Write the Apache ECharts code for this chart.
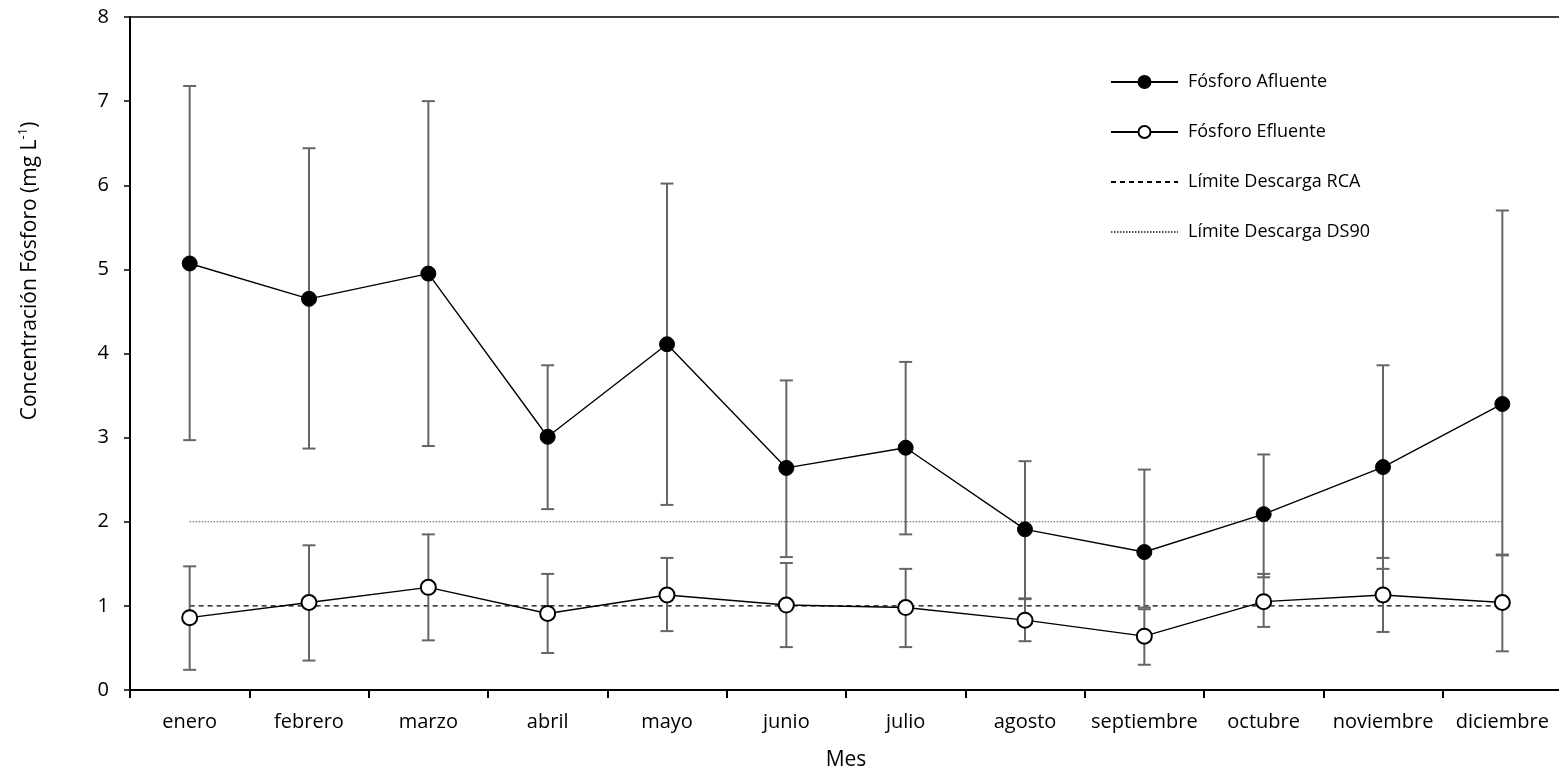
<!DOCTYPE html>
<html>
<head>
<meta charset="utf-8">
<script src="https://cdn.jsdelivr.net/npm/echarts@6/dist/echarts.min.js"></script>
<style>
  html, body { margin: 0; padding: 0; background: #fff; }
  #chart { width: 1559px; height: 775px; }
</style>
</head>
<body>
<div id="chart"></div>
<script>
// Monthly phosphorus concentration, influent vs effluent, with error bars
const months = ['enero', 'febrero', 'marzo', 'abril', 'mayo', 'junio', 'julio', 'agosto', 'septiembre', 'octubre', 'noviembre', 'diciembre'];

const afluente    = [5.07, 4.65, 4.95, 3.01, 4.11, 2.64, 2.88, 1.91, 1.64, 2.09, 2.65, 3.40];
const afluenteSup = [7.18, 6.44, 7.00, 3.86, 6.02, 3.68, 3.90, 2.72, 2.62, 2.80, 3.86, 5.70];
const afluenteInf = [2.97, 2.87, 2.90, 2.15, 2.20, 1.58, 1.85, 1.09, 0.98, 1.34, 1.44, 1.60];

const efluente    = [0.86, 1.04, 1.22, 0.91, 1.13, 1.01, 0.98, 0.83, 0.64, 1.05, 1.13, 1.04];
const efluenteSup = [1.47, 1.72, 1.85, 1.38, 1.57, 1.51, 1.44, 1.08, 0.96, 1.38, 1.57, 1.61];
const efluenteInf = [0.24, 0.35, 0.59, 0.44, 0.70, 0.51, 0.51, 0.58, 0.30, 0.75, 0.69, 0.46];

// Discharge limits (mg/L)
const limiteRCA  = [1, 1, 1, 1, 1, 1, 1, 1, 1, 1, 1, 1];
const limiteDS90 = [2, 2, 2, 2, 2, 2, 2, 2, 2, 2, 2, 2];

const yTicks = { min: 0, max: 8, interval: 1 };

const FONT = 'Open Sans';

function errorBarData(sup, inf) {
  return sup.map((s, i) => [i, s, inf[i]]);
}

function renderErrorBar(params, api) {
  const i = api.value(0);
  const top = api.coord([i, api.value(1)]);
  const bot = api.coord([i, api.value(2)]);
  const half = 6.5;
  const style = { stroke: '#666666', lineWidth: 2 };
  return {
    type: 'group',
    children: [
      { type: 'line', shape: { x1: top[0], y1: top[1], x2: bot[0], y2: bot[1] }, style },
      { type: 'line', shape: { x1: top[0] - half, y1: top[1], x2: top[0] + half, y2: top[1] }, style },
      { type: 'line', shape: { x1: bot[0] - half, y1: bot[1], x2: bot[0] + half, y2: bot[1] }, style }
    ]
  };
}

const chart = echarts.init(document.getElementById('chart'), null, { renderer: 'canvas' });

chart.setOption({
  animation: false,
  backgroundColor: '#ffffff',
  textStyle: { fontFamily: FONT, color: '#000' },
  grid: {
    left: 130, top: 17, width: 1432, height: 673,
    outerBoundsMode: 'none',
    containLabel: false,
    show: true, borderColor: '#000', borderWidth: 1.5, backgroundColor: 'transparent'
  },
  legend: {
    orient: 'vertical',
    left: 1105,
    top: 68,
    itemWidth: 67,
    itemHeight: 15,
    itemGap: 32,
    textStyle: { fontFamily: FONT, fontSize: 18, color: '#000', padding: [0, 0, 0, 5] },
    data: [
      { name: 'Fósforo Afluente' },
      { name: 'Fósforo Efluente' },
      { name: 'Límite Descarga RCA', itemStyle: { opacity: 0 } },
      { name: 'Límite Descarga DS90', itemStyle: { opacity: 0 } }
    ]
  },
  xAxis: {
    type: 'category',
    data: months,
    boundaryGap: true,
    name: 'Mes',
    nameLocation: 'middle',
    nameGap: 60,
    nameTextStyle: { fontFamily: FONT, fontSize: 21, color: '#000' },
    axisLine: { lineStyle: { color: '#000', width: 2 } },
    axisTick: { show: true, interval: 0, length: 8, lineStyle: { color: '#000', width: 2 } },
    axisLabel: { interval: 0, fontFamily: FONT, fontSize: 20, color: '#000', margin: 22 },
    splitLine: { show: false }
  },
  yAxis: {
    type: 'value',
    min: yTicks.min,
    max: yTicks.max,
    interval: yTicks.interval,
    axisLine: { show: true, lineStyle: { color: '#000', width: 2 } },
    axisTick: { show: true, length: 6, lineStyle: { color: '#000', width: 1.5 } },
    axisLabel: { fontFamily: FONT, fontSize: 20, color: '#000', margin: 21 },
    splitLine: { show: false }
  },
  graphic: [{
    type: 'text',
    x: 30,
    y: 271,
    rotation: Math.PI / 2,
    style: {
      text: 'Concentración Fósforo (mg L{sup|-1}{n|)}',
      fontFamily: FONT,
      fontSize: 21,
      fill: '#000',
      align: 'center',
      verticalAlign: 'middle',
      lineHeight: 27,
      rich: {
        sup: { fontFamily: FONT, fontSize: 13, fill: '#000', verticalAlign: 'top', lineHeight: 27 },
        n: { fontFamily: FONT, fontSize: 21, fill: '#000', lineHeight: 27 }
      }
    }
  }],
  series: [
    {
      name: 'Límite Descarga DS90',
      type: 'line',
      data: limiteDS90,
      symbol: 'none',
      lineStyle: { color: '#555', width: 1.2, type: [1.5, 1.5] },
      itemStyle: { color: '#555' },
      z: 1
    },
    {
      name: 'Límite Descarga RCA',
      type: 'line',
      data: limiteRCA,
      symbol: 'none',
      lineStyle: { color: '#000', width: 1.3, type: [5, 4] },
      itemStyle: { color: '#000' },
      z: 1
    },
    {
      name: 'barrasAfluente',
      type: 'custom',
      data: errorBarData(afluenteSup, afluenteInf),
      renderItem: renderErrorBar,
      encode: { x: 0, y: [1, 2] },
      z: 2
    },
    {
      name: 'barrasEfluente',
      type: 'custom',
      data: errorBarData(efluenteSup, efluenteInf),
      renderItem: renderErrorBar,
      encode: { x: 0, y: [1, 2] },
      z: 2
    },
    {
      name: 'Fósforo Afluente',
      type: 'line',
      data: afluente,
      symbol: 'circle',
      symbolSize: 15,
      lineStyle: { color: '#000', width: 1.4 },
      itemStyle: { color: '#000', borderColor: '#000', borderWidth: 1 },
      z: 3
    },
    {
      name: 'Fósforo Efluente',
      type: 'line',
      data: efluente,
      symbol: 'circle',
      symbolSize: 15,
      lineStyle: { color: '#000', width: 1.4 },
      itemStyle: { color: '#fff', borderColor: '#000', borderWidth: 2 },
      z: 3
    }
  ]
});
</script>
</body>
</html>
